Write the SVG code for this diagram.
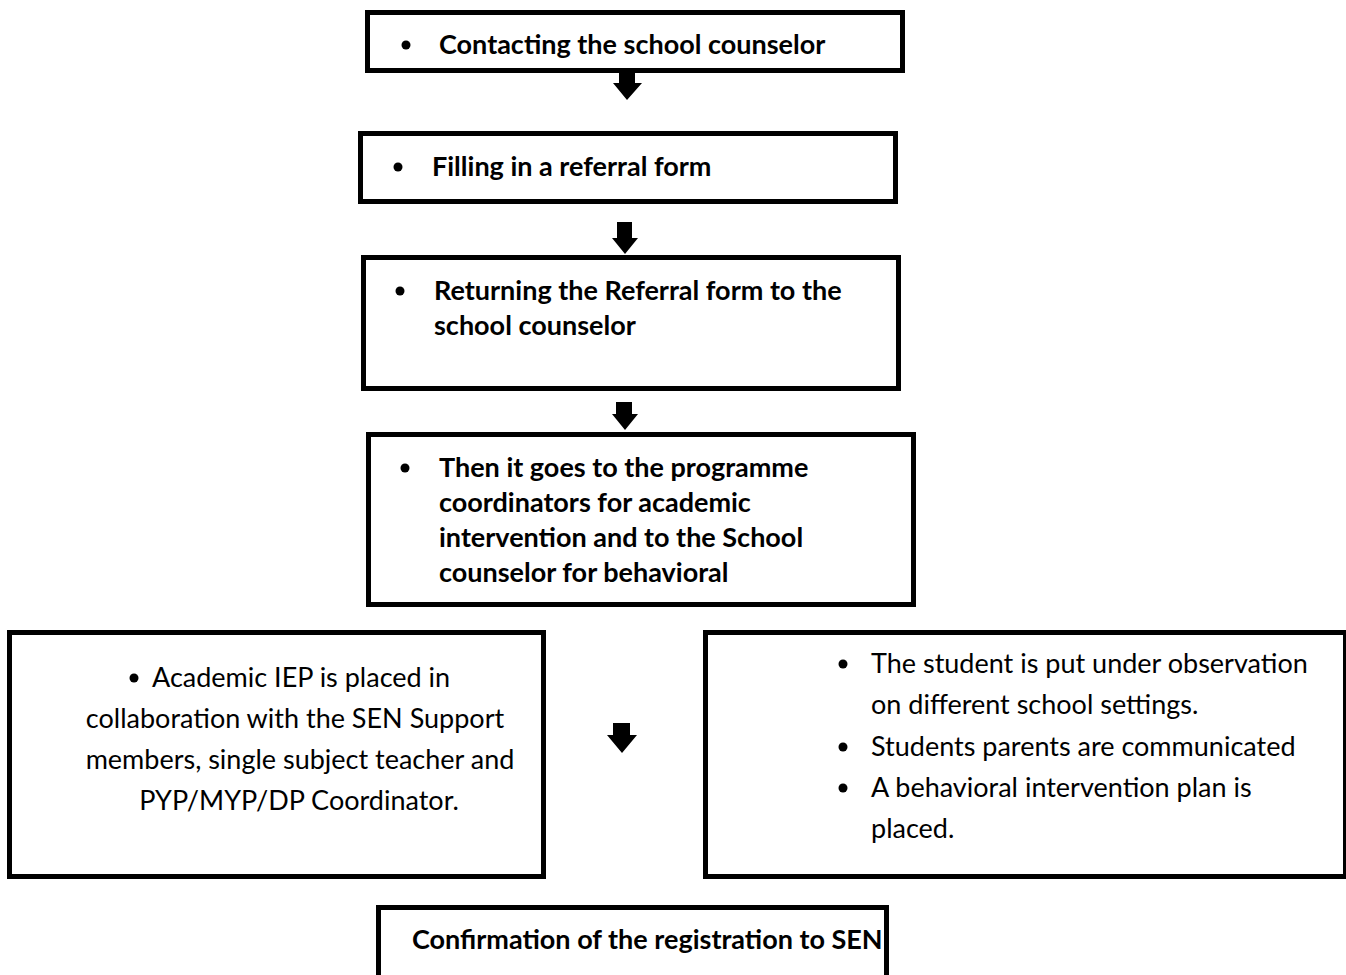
<svg xmlns="http://www.w3.org/2000/svg" width="1346" height="975" viewBox="0 0 1346 975">
<style>
.box{fill:#fff;stroke:#000;stroke-width:5}
.b{font-family:Lato,"Liberation Sans",sans-serif;font-weight:bold;font-size:27px;fill:#000}
.r{font-family:Lato,"Liberation Sans",sans-serif;font-size:27px;fill:#000}
.dot{fill:#000}
.arr{fill:#000}
</style>
<rect width="1346" height="975" fill="#fff"/>
<g id="n1">
<rect class="box" x="367.5" y="12.5" width="535" height="58"/>
<circle class="dot" cx="406" cy="45" r="4.5"/>
<text class="b" x="439" y="54">Contacting the school counselor</text>
</g>
<g id="n2">
<rect class="box" x="360.5" y="133.5" width="535" height="68"/>
<circle class="dot" cx="398" cy="167" r="4.5"/>
<text class="b" x="432" y="176">Filling in a referral form</text>
</g>
<g id="n3">
<rect class="box" x="363.5" y="257.5" width="535" height="131"/>
<circle class="dot" cx="400" cy="291" r="4.5"/>
<text class="b" x="434" y="300">Returning the Referral form to the</text>
<text class="b" x="434" y="335">school counselor</text>
</g>
<g id="n4">
<rect class="box" x="368.5" y="434.5" width="545" height="170"/>
<circle class="dot" cx="405" cy="468" r="4.5"/>
<text class="b" x="439" y="477">Then it goes to the programme</text>
<text class="b" x="439" y="512">coordinators for academic</text>
<text class="b" x="439" y="547">intervention and to the School</text>
<text class="b" x="439" y="582">counselor for behavioral</text>
</g>
<g id="n5">
<rect class="box" x="9.5" y="632.5" width="534" height="244"/>
<circle class="dot" cx="134" cy="678" r="4.5"/>
<text class="r" x="152" y="687">Academic IEP is placed in</text>
<text class="r" x="295" y="728" text-anchor="middle">collaboration with the SEN Support</text>
<text class="r" x="300" y="769" text-anchor="middle">members, single subject teacher and</text>
<text class="r" x="299" y="810" text-anchor="middle">PYP/MYP/DP Coordinator.</text>
</g>
<g id="n6">
<rect class="box" x="705.5" y="632.5" width="640" height="244"/>
<circle class="dot" cx="843" cy="664" r="4.5"/>
<text class="r" x="871" y="673">The student is put under observation</text>
<text class="r" x="871" y="714">on different school settings.</text>
<circle class="dot" cx="843" cy="747" r="4.5"/>
<text class="r" x="871" y="756">Students parents are communicated</text>
<circle class="dot" cx="843" cy="788" r="4.5"/>
<text class="r" x="871" y="797">A behavioral intervention plan is</text>
<text class="r" x="871" y="838">placed.</text>
</g>
<g id="n7">
<rect class="box" x="378.5" y="907.5" width="508" height="80"/>
<text class="b" x="412" y="949">Confirmation of the registration to SEN</text>
</g>
<g id="connectors">
<polygon class="arr" points="619,72 635,72 635,83 642,83 627,100 613,83 619,83"/>
<polygon class="arr" points="617,222 632,222 632,238 638,238 625,254 612,238 617,238"/>
<polygon class="arr" points="616,402 632,402 632,414 638,414 625,430 612,414 616,414"/>
<polygon class="arr" points="613,723 630,723 630,735 637,735 622,753 607,735 613,735"/>
</g>
</svg>
